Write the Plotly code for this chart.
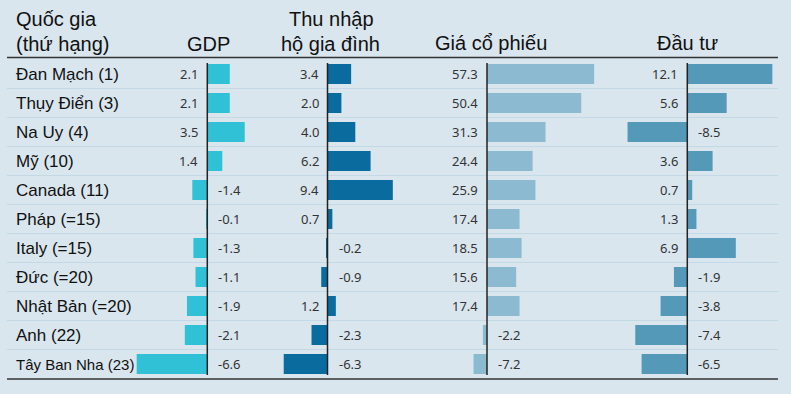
import plotly.graph_objects as go

countries = ["Đan Mạch (1)", "Thụy Điển (3)", "Na Uy (4)", "Mỹ (10)", "Canada (11)",
             "Pháp (=15)", "Italy (=15)", "Đức (=20)", "Nhật Bản (=20)", "Anh (22)",
             "Tây Ban Nha (23)"]
gdp = [2.1, 2.1, 3.5, 1.4, -1.4, -0.1, -1.3, -1.1, -1.9, -2.1, -6.6]
household_income = [3.4, 2.0, 4.0, 6.2, 9.4, 0.7, -0.2, -0.9, 1.2, -2.3, -6.3]
stock_prices = [57.3, 50.4, 31.3, 24.4, 25.9, 17.4, 18.5, 15.6, 17.4, -2.2, -7.2]
investment = [12.1, 5.6, -8.5, 3.6, 0.7, 1.3, 6.9, -1.9, -3.8, -7.4, -6.5]

W, H = 791, 394
BG = "#d9e6ee"

# column geometry in pixels: (zero position, px per unit, domain left, domain right)
cols = [
    dict(vals=gdp, color="#30c1d6", zero=207.3, ppu=10.7, L=120, R=262),
    dict(vals=household_income, color="#0a6c9e", zero=327.5, ppu=6.95, L=264, R=405),
    dict(vals=stock_prices, color="#8bbad1", zero=487.0, ppu=1.87, L=410, R=620),
    dict(vals=investment, color="#5499b8", zero=687.3, ppu=7.03, L=622, R=785),
]

def px(x):
    return x / W

def py(y):
    return 1 - y / H

fig = go.Figure()
annotations = []
shapes = []

row_top, row_h = 59.5, 29.0
n = len(countries)
ydom = [py(row_top + n * row_h), py(row_top)]

for k, c in enumerate(cols):
    ax = "x" if k == 0 else f"x{k+1}"
    axname = "xaxis" if k == 0 else f"xaxis{k+1}"
    rng = [(c["L"] - c["zero"]) / c["ppu"], (c["R"] - c["zero"]) / c["ppu"]]
    fig.add_trace(go.Bar(
        x=c["vals"], y=countries, orientation="h", xaxis=ax, yaxis="y",
        marker=dict(color=c["color"], line=dict(width=0)),
        hoverinfo="skip", showlegend=False,
    ))
    fig.layout[axname] = dict(domain=[px(c["L"]), px(c["R"])], range=rng,
                              visible=False, fixedrange=True, anchor="y")
    for name, v in zip(countries, c["vals"]):
        annotations.append(dict(
            x=0, y=name, xref=ax, yref="y", text=f"{v:.1f}", showarrow=False,
            xanchor="right" if v >= 0 else "left", xshift=-7 if v >= 0 else 9,
            yanchor="middle", font=dict(family="Noto Sans", size=13, color="#333333"),
        ))
    shapes.append(dict(type="line", xref=ax, yref="y", x0=0, x1=0, y0=-0.38, y1=n - 1 + 0.38,
                       line=dict(color="#222222", width=1.5)))

# row separators
for i in range(1, n):
    y = py(row_top + i * row_h)
    shapes.append(dict(type="line", xref="paper", yref="paper", x0=px(7), x1=px(778),
                       y0=y, y1=y, line=dict(color="#c4d9e6", width=1.2), layer="below"))
# top and bottom rules
for yy in [57.5, 379]:
    shapes.append(dict(type="line", xref="paper", yref="paper", x0=px(7), x1=px(778),
                       y0=py(yy), y1=py(yy), line=dict(color="#333333", width=1.5)))

# country labels
for i, name in enumerate(countries):
    annotations.append(dict(
        x=px(14), y=name, xref="paper", yref="y", text=name, showarrow=False,
        xanchor="left", yanchor="middle",
        font=dict(family="Liberation Sans, Arial", size=15 if i == n - 1 else 17, color="#111111"),
    ))

headers = [
    ("Quốc gia", 14, 19, "left"),
    ("(thứ hạng)", 14, 44, "left"),
    ("GDP", 209, 44, "center"),
    ("Thu nhập", 331, 19, "center"),
    ("hộ gia đình", 330, 44, "center"),
    ("Giá cổ phiếu", 491, 43, "center"),
    ("Đầu tư", 687, 43, "center"),
]
for t, x, y, anc in headers:
    annotations.append(dict(
        x=px(x), y=py(y), xref="paper", yref="paper", text=t, showarrow=False,
        xanchor=anc, yanchor="middle",
        font=dict(family="Liberation Sans, Arial", size=20, color="#111111"),
    ))

fig.update_layout(
    width=W, height=H,
    margin=dict(l=0, r=0, t=0, b=0),
    paper_bgcolor=BG, plot_bgcolor=BG,
    bargap=0.31,
    yaxis=dict(domain=ydom, type="category", categoryarray=countries,
               range=[n - 0.5, -0.5], visible=False, fixedrange=True),
    annotations=annotations,
    shapes=shapes,
)

fig.write_html("out.html", config={"displayModeBar": False},
               post_script="document.body.style.margin='0';document.body.style.overflow='hidden';")
